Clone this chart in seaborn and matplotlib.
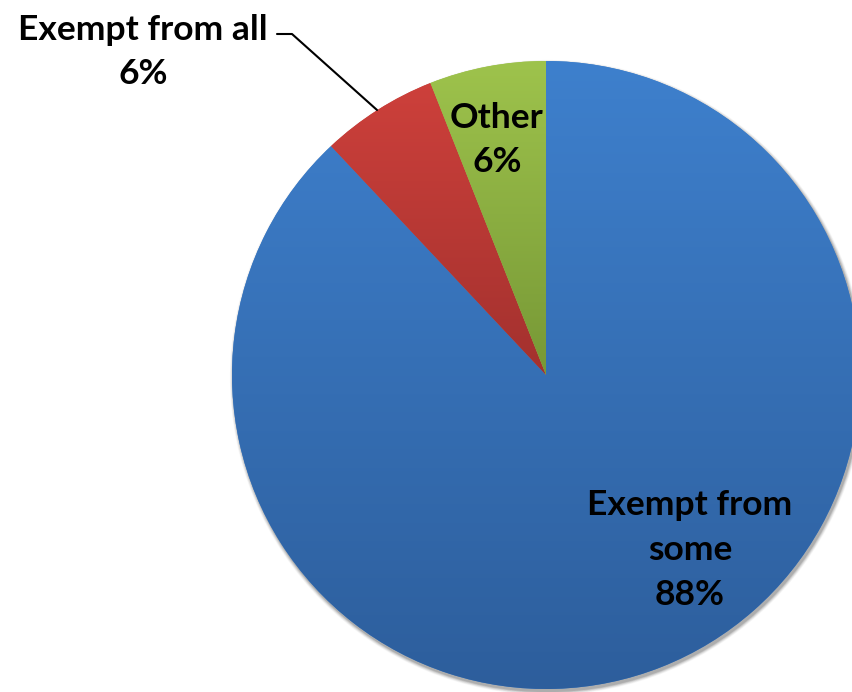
import numpy as np
import matplotlib
matplotlib.use("Agg")
import matplotlib.pyplot as plt
import seaborn as sns
from matplotlib.colors import LinearSegmentedColormap
from matplotlib.patches import Circle

sns.set_theme(style="white")
plt.rcParams['font.family'] = ['Lato', 'DejaVu Sans']

# ---- data ----
categories = ["Exempt from some", "Exempt from all", "Other"]
values = [88, 6, 6]
label_texts = ["Exempt from\nsome\n88%", "Exempt from all\n6%", "Other\n6%"]
top_colors = ["#3E80CD", "#CD403B", "#9EC34C"]
bottom_colors = ["#2D5E9C", "#A3312E", "#779836"]

W, H = 853, 692
fig = plt.figure(figsize=(W / 100, H / 100), dpi=100)
ax = fig.add_axes([0, 0, 1, 1])
ax.set_xlim(0, W)
ax.set_ylim(0, H)
ax.set_aspect('equal')
ax.axis('off')

cx, cy, R = 546, H - 375, 314

# soft shadow
for k, a in zip(range(6, 0, -1), [0.03, 0.04, 0.05, 0.06, 0.08, 0.10]):
    ax.add_patch(Circle((cx + 1.5, cy - 2.5), R + k * 0.6, color='black', alpha=a, lw=0, zorder=0))

wedges, _ = ax.pie(values, startangle=90, counterclock=False, radius=R,
                   center=(cx, cy), colors=top_colors,
                   wedgeprops=dict(linewidth=0), frame=True)
ax.set_xlim(0, W)
ax.set_ylim(0, H)
ax.axis('off')

# vertical gradient per wedge
for w, ct, cb in zip(wedges, top_colors, bottom_colors):
    path = w.get_path()
    verts = w.get_patch_transform().transform(path.vertices)
    y0, y1 = verts[:, 1].min(), verts[:, 1].max()
    x0, x1 = verts[:, 0].min(), verts[:, 0].max()
    cmap = LinearSegmentedColormap.from_list("g", [cb, ct])
    grad = np.linspace(0, 1, 256).reshape(-1, 1)
    im = ax.imshow(grad, cmap=cmap, extent=(x0, x1, y0, y1), origin='lower',
                   aspect='auto', zorder=2)
    im.set_clip_path(w)
ax.set_xlim(0, W)
ax.set_ylim(0, H)

fs = 25.5
ls = 1.5
ax.text(690, H - 550, label_texts[0], ha='center', va='center', fontsize=fs,
        fontweight='bold', color='black', linespacing=ls, zorder=5)
ax.text(143, H - 52, label_texts[1], ha='center', va='center', fontsize=fs,
        fontweight='bold', color='black', linespacing=ls, zorder=5)
ax.text(497, H - 140, label_texts[2], ha='center', va='center', fontsize=fs,
        fontweight='bold', color='black', linespacing=ls, zorder=5)

ax.plot([277, 292, 377], [H - 34, H - 34, H - 110], color='black', lw=1.5, zorder=5)

fig.savefig("out.png", dpi=100)
